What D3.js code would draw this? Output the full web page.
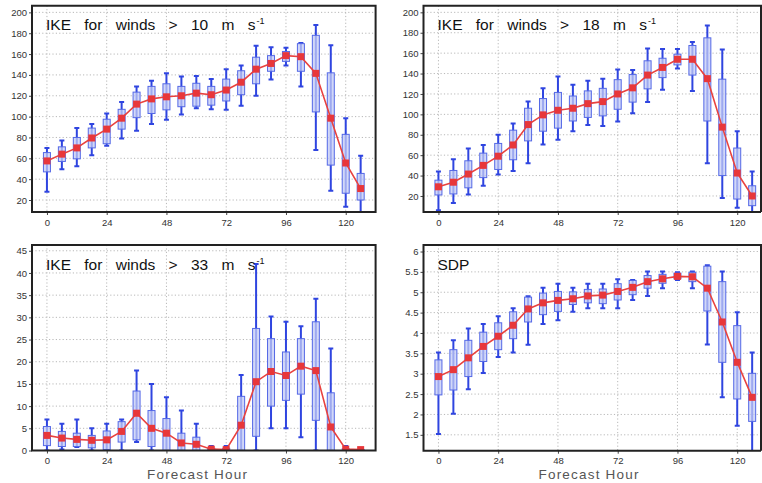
<!DOCTYPE html>
<html>
<head>
<meta charset="utf-8">
<script src="https://cdn.jsdelivr.net/npm/d3@7"></script>
<style>
  body { margin: 0; background: #fff; }
  svg { display: block; font-family: "Liberation Sans", Arial, sans-serif; }
</style>
</head>
<body>
<svg id="chart" width="762" height="483"></svg>
<script>
// Forecast hours (x categories)
const hours = [0, 6, 12, 18, 24, 30, 36, 42, 48, 54, 60, 66, 72, 78, 84, 90, 96, 102, 108, 114, 120, 126];
const xTicks = [0, 24, 48, 72, 96, 120];

// IKE for winds > 10 m/s
const ike10Hi   = [70, 77, 89, 93, 103, 114, 129, 134.5, 141.5, 138.5, 139, 136, 145.5, 149, 168, 166.5, 166, 170.5, 188, 168.5, 98.5, 62.5];
const ike10Q3   = [65.5, 71, 80, 89, 97.5, 107, 123.5, 129, 131.5, 129, 132, 129, 136, 144, 157, 158.5, 162.5, 170, 178, 142, 83, 45.5];
const ike10Mean = [57.5, 64, 70, 79.5, 88, 98.5, 112, 117, 119, 120, 122.5, 121, 125.5, 133, 145.5, 151, 158.5, 157.5, 141.5, 98.5, 55.5, 31];
const ike10Q1   = [47, 57, 59.5, 70, 74, 88, 99, 103, 106.5, 109.5, 110, 111, 115, 121, 131.5, 143.5, 153, 143.5, 104.5, 53.5, 26.5, 20];
const ike10Lo   = [28, 49.5, 52.5, 63, 72, 79, 86.5, 93, 97, 102, 108, 107, 106.5, 110.5, 120, 135.5, 149, 129, 68, 29, 13.5, 3];

// IKE for winds > 18 m/s
const ike18Hi   = [44, 56, 66.5, 70, 80, 91, 112.5, 125.5, 137, 129, 133, 135, 144, 143.5, 164.5, 164, 164, 171, 187, 163.5, 83.5, 44];
const ike18Q3   = [35.5, 45, 54.5, 62, 71.5, 84.5, 106, 115.5, 121.5, 118, 123, 125.5, 134, 139, 152.5, 155, 159, 167.5, 175, 134.5, 67, 30];
const ike18Mean = [29, 33.5, 41.5, 50, 59, 70, 90, 99.5, 104, 106, 110.5, 112.5, 120, 126, 138.5, 146, 154, 154, 135, 87.5, 42.5, 20];
const ike18Q1   = [21, 22, 28, 38, 46, 55.5, 74, 83.5, 86.5, 93.5, 97, 98.5, 105, 112, 125, 136, 148.5, 138.5, 93.5, 40, 17, 10.5];
const ike18Lo   = [6, 13, 21.5, 30, 41, 44.5, 52, 70.5, 75, 83.5, 89.5, 88.5, 93, 101, 112, 124, 145, 123, 52, 18, 8.5, 1];

// IKE for winds > 33 m/s
const ike33Hi   = [7, 6, 7, 5, 6, 7, 18, 15, 12, 9, 6, 1, 1, 17, 42, 30.2, 29, 28, 34.2, 23, 1, 0.3];
const ike33Q3   = [5.4, 4.3, 3.9, 3.4, 4.4, 6.5, 13.4, 9, 7.2, 3.9, 3, 0.5, 0.5, 12.2, 27.5, 25.2, 22.2, 25.2, 29, 13, 0.4, 0.2];
const ike33Mean = [3.4, 2.8, 2.5, 2.3, 2.4, 4.3, 8.4, 5, 3.9, 1.7, 1.4, 0.3, 0.2, 5.7, 15.5, 17.8, 16.9, 19, 18, 5.3, 0.3, 0.2];
const ike33Q1   = [1.1, 0.9, 0.9, 0.6, 0.2, 1.9, 2.4, 0.9, 0, 0, 0, 0, 0, 0, 3.2, 10, 11.3, 12.7, 6.8, 0, 0, 0];
const ike33Lo   = [0, 0.2, 0.8, 0, 0, 0, 1.9, 0, 0, 0, 0, 0, 0, 0, 0, 5, 5, 3, 0, 0, 0, 0];

// SDP
const sdpHi   = [3.52, 3.82, 4.11, 4.22, 4.41, 4.61, 4.9, 5.11, 5.21, 5.11, 5.21, 5.21, 5.32, 5.3, 5.51, 5.51, 5.49, 5.51, 5.66, 5.51, 4.51, 3.52];
const sdpQ3   = [3.34, 3.59, 3.82, 4.02, 4.25, 4.52, 4.88, 4.98, 5.02, 5.01, 5.07, 5.08, 5.21, 5.29, 5.41, 5.44, 5.47, 5.49, 5.64, 5.26, 4.18, 3.01];
const sdpMean = [2.93, 3.1, 3.39, 3.67, 3.92, 4.19, 4.59, 4.74, 4.8, 4.84, 4.91, 4.93, 5.02, 5.12, 5.26, 5.33, 5.39, 5.38, 5.1, 4.27, 3.28, 2.42];
const sdpQ1   = [2.48, 2.6, 2.93, 3.3, 3.59, 3.86, 4.27, 4.45, 4.53, 4.7, 4.74, 4.72, 4.81, 4.94, 5.1, 5.22, 5.33, 5.26, 4.54, 3.28, 2.38, 1.83];
const sdpLo   = [1.52, 2.02, 2.62, 3.02, 3.41, 3.52, 3.71, 4.22, 4.31, 4.52, 4.61, 4.61, 4.61, 4.81, 4.91, 5.1, 5.3, 5.1, 3.72, 2.42, 1.72, 1.0];

// Y tick values per panel
const ikeTicks  = [20, 40, 60, 80, 100, 120, 140, 160, 180, 200];
const ike33Tick = [0, 5, 10, 15, 20, 25, 30, 35, 40, 45];
const sdpTicks  = [1.5, 2, 2.5, 3, 3.5, 4, 4.5, 5, 5.5, 6];

const panels = [
  { title: "IKE for winds > 10 m s", sup: "-1", hi: ike10Hi, q3: ike10Q3, mean: ike10Mean, q1: ike10Q1, lo: ike10Lo,
    yTicks: ikeTicks, yDomain: [8.5, 206.4], left: 32, top: 5.7, bottom: 212, xLabel: false },
  { title: "IKE for winds > 18 m s", sup: "-1", hi: ike18Hi, q3: ike18Q3, mean: ike18Mean, q1: ike18Q1, lo: ike18Lo,
    yTicks: ikeTicks, yDomain: [4.3, 206.5], left: 423.5, top: 5.7, bottom: 212, xLabel: false },
  { title: "IKE for winds > 33 m s", sup: "-1", hi: ike33Hi, q3: ike33Q3, mean: ike33Mean, q1: ike33Q1, lo: ike33Lo,
    yTicks: ike33Tick, yDomain: [0, 46.3], left: 32, top: 245, bottom: 450.5, xLabel: true },
  { title: "SDP", sup: "", hi: sdpHi, q3: sdpQ3, mean: sdpMean, q1: sdpQ1, lo: sdpLo,
    yTicks: sdpTicks, yDomain: [1.11, 6.16], left: 423.5, top: 245, bottom: 450.7, xLabel: true }
];

const svg = d3.select("#chart");
const plotW = 343.6;
const boxW = 7, capW = 5, markS = 7;

panels.forEach((p, i) => {
  const x = d3.scaleLinear().domain([-6, 132]).range([p.left, p.left + plotW]);
  const y = d3.scaleLinear().domain(p.yDomain).range([p.bottom, p.top]);
  const frameRight = Math.min(p.left + plotW, 761);
  const g = svg.append("g");

  const clipId = "clip" + i;
  g.append("clipPath").attr("id", clipId)
    .append("rect").attr("x", p.left).attr("y", p.top)
    .attr("width", frameRight - p.left).attr("height", p.bottom - p.top);

  // dotted grid
  const grid = g.append("g").attr("clip-path", `url(#${clipId})`)
    .attr("stroke", "#b8b8b8").attr("stroke-width", 1).attr("stroke-dasharray", "1.2,2.2");
  grid.selectAll("line.h").data(p.yTicks).join("line")
    .attr("x1", p.left).attr("x2", frameRight)
    .attr("y1", d => y(d)).attr("y2", d => y(d));
  grid.selectAll("line.v").data(xTicks).join("line")
    .attr("x1", d => x(d)).attr("x2", d => x(d))
    .attr("y1", p.top).attr("y2", p.bottom);

  // y axis (ticks outside the frame)
  const yAxis = d3.axisLeft(y).tickValues(p.yTicks).tickSize(3).tickPadding(2)
    .tickFormat(d => String(d));
  const ya = g.append("g").attr("transform", `translate(${p.left},0)`).call(yAxis);
  ya.select(".domain").remove();
  ya.selectAll("line").attr("stroke", "#444");
  ya.selectAll("text").attr("font-size", 9.5).attr("fill", "#333")
    .attr("font-family", "Liberation Sans, Arial, sans-serif");

  // x axis
  const xAxis = d3.axisBottom(x).tickValues(xTicks).tickSize(3).tickPadding(4);
  const xa = g.append("g").attr("transform", `translate(0,${p.bottom})`).call(xAxis);
  xa.select(".domain").remove();
  xa.selectAll("line").attr("stroke", "#444");
  xa.selectAll("text").attr("font-size", 9.5).attr("fill", "#333")
    .attr("font-family", "Liberation Sans, Arial, sans-serif");

  const marks = g.append("g").attr("clip-path", `url(#${clipId})`);
  const rows = hours.map((h, k) => ({ h, hi: p.hi[k], q3: p.q3[k], m: p.mean[k], q1: p.q1[k], lo: p.lo[k] }));

  // whiskers
  marks.selectAll("line.wh").data(rows).join("line")
    .attr("x1", d => x(d.h)).attr("x2", d => x(d.h))
    .attr("y1", d => y(d.lo)).attr("y2", d => y(d.hi))
    .attr("stroke", "#2f45e0").attr("stroke-width", 2);
  marks.selectAll("line.capHi").data(rows).join("line")
    .attr("x1", d => x(d.h) - capW / 2).attr("x2", d => x(d.h) + capW / 2)
    .attr("y1", d => y(d.hi)).attr("y2", d => y(d.hi))
    .attr("stroke", "#2f45e0").attr("stroke-width", 2);
  marks.selectAll("line.capLo").data(rows).join("line")
    .attr("x1", d => x(d.h) - capW / 2).attr("x2", d => x(d.h) + capW / 2)
    .attr("y1", d => y(d.lo)).attr("y2", d => y(d.lo))
    .attr("stroke", "#2f45e0").attr("stroke-width", 2);

  // interquartile boxes
  marks.selectAll("rect.box").data(rows).join("rect")
    .attr("x", d => x(d.h) - boxW / 2).attr("width", boxW)
    .attr("y", d => y(d.q3)).attr("height", d => Math.max(0.5, y(d.q1) - y(d.q3)))
    .attr("fill", "#c3cbf6").attr("fill-opacity", 0.75)
    .attr("stroke", "#5468e6").attr("stroke-width", 1);

  // mean line with square markers
  marks.append("path").datum(rows)
    .attr("d", d3.line().x(d => x(d.h)).y(d => y(d.m)))
    .attr("fill", "none").attr("stroke", "#e8423f").attr("stroke-width", 1.6);
  marks.selectAll("rect.mk").data(rows).join("rect")
    .attr("x", d => x(d.h) - markS / 2).attr("y", d => y(d.m) - markS / 2)
    .attr("width", markS).attr("height", markS)
    .attr("fill", "#e8373a");

  // frame
  g.append("path")
    .attr("d", `M${frameRight},${p.bottom}H${p.left}V${p.top}H${frameRight}` + (frameRight < 761 ? "Z" : `V${p.bottom}`))
    .attr("fill", "none").attr("stroke", "#222").attr("stroke-width", 2);

  // panel title
  const t = g.append("text").attr("x", p.left + 14).attr("y", p.top + 24.5)
    .attr("font-size", 15.5).attr("fill", "#111").attr("word-spacing", 9)
    .text(p.title);
  if (p.sup) {
    t.append("tspan").attr("dy", -6).attr("font-size", 9).attr("dx", 1).text(p.sup);
  }

  if (p.xLabel) {
    g.append("text").attr("x", x(60.5)).attr("y", p.bottom + 28.5)
      .attr("text-anchor", "middle").attr("font-size", 13.5).attr("letter-spacing", 1.2)
      .attr("fill", "#555").text("Forecast Hour");
  }
});
</script>
</body>
</html>
